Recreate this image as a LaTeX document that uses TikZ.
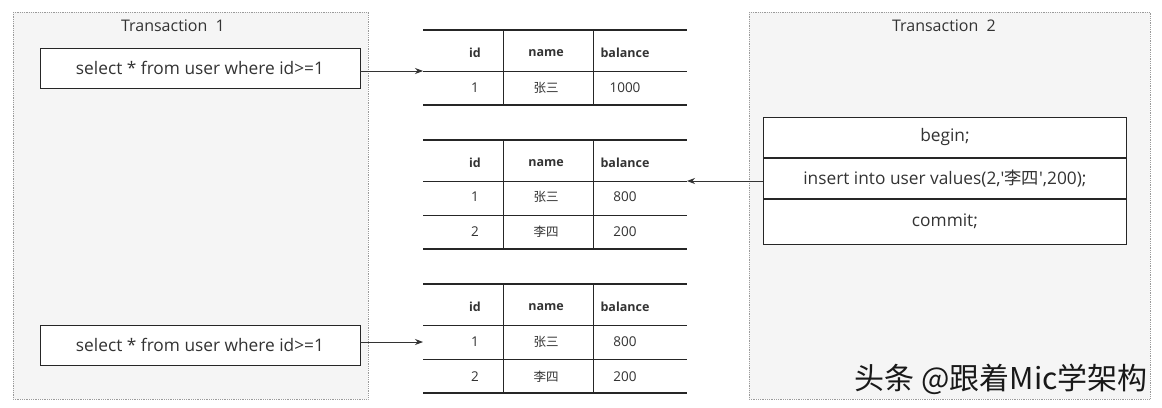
\documentclass[tikz,border=0pt]{standalone}
\usepackage{fontspec}
\setmainfont{Open Sans}[Ligatures=TeXOff]
\newfontfamily\cjk{Noto Sans CJK SC}
\usetikzlibrary{arrows.meta,positioning}
\definecolor{ink}{HTML}{333333}
\definecolor{panel}{HTML}{F5F5F5}
\definecolor{frame}{HTML}{9A9A9A}

\begin{document}
\begin{tikzpicture}[x=1pt,y=-1pt,
  panelbox/.style={draw=frame, fill=panel, densely dotted, line width=0.8pt},
  sqlbox/.style={draw=black!85, fill=white, line width=0.9pt, text=ink,
    minimum width=320pt, minimum height=40pt, inner sep=0pt, font=\fontsize{17.3}{19}\selectfont},
  stackbox/.style={sqlbox, minimum width=363pt},
  cell/.style={text=ink, inner sep=0pt, font=\fontsize{13.5}{15}\selectfont},
  head/.style={cell, font=\fontsize{12.5}{14}\selectfont\bfseries},
  link/.style={-{Stealth[length=8pt,width=6pt]}, draw=black!80, line width=0.8pt}]
  \useasboundingbox (0,0) rectangle (1162,407);
  \fill[white] (0,0) rectangle (1162,407);
  \draw[panelbox] (13,12) rectangle (368,399);
  \draw[panelbox] (749,12) rectangle (1150,399);
  \node[cell, font=\fontsize{16}{18}\selectfont] (tx1) at (173,26) {Transaction\ \ 1};
  \node[cell, font=\fontsize{16}{18}\selectfont] (tx2) at (944,26) {Transaction\ \ 2};

  \node[sqlbox] (q1) at (200,68) {select * from user where id>=1};
  \node[sqlbox] (q2) at (200,345) {select * from user where id>=1};

  \node[stackbox, anchor=north west] (begin) at (763,117) {begin;};
  \node[stackbox, below=0pt of begin] (ins) {insert into user values(2,'{\cjk 李四}',200);};
  \node[stackbox, minimum height=45pt, below=0pt of ins] (commit) {commit;};

  \foreach \tb/\top/\rows in {a/30/1, b/140/2, c/284/2} {
    \pgfmathsetmacro\bot{\top+41+34*\rows}
    \draw[line width=1.6pt, black!85] (423,\top) -- (687,\top);
    \draw[line width=1.6pt, black!85] (423,\bot) -- (687,\bot);
    \draw[line width=0.7pt, black!85] (423,\top+41) -- (687,\top+41);
    \ifnum\rows>1 \draw[line width=0.7pt, black!85] (423,\top+75) -- (687,\top+75); \fi
    \foreach \cx in {503,593}
      \draw[line width=0.7pt, black!85] (\cx,\top) -- (\cx,\bot);
    \node[head] (\tb-id) at (475,\top+23) {id};
    \node[head] (\tb-name) at (546,\top+23) {name};
    \node[head] (\tb-bal) at (625,\top+23) {balance};
    \coordinate (\tb-left) at (423,\top+41);
    \coordinate (\tb-right) at (687,\top+41);
  }
  \foreach \tb/\ry/\id/\name/\bal in {a/88/1/张三/1000, b/197/1/张三/800, b/232/2/李四/200,
      c/342/1/张三/800, c/377/2/李四/200} {
    \node[cell] (\tb-id-\id) at (475,\ry) {\id};
    \node[cell, font=\cjk\fontsize{12.5}{14}\selectfont] (\tb-name-\id) at (546,\ry) {\name};
    \node[cell] (\tb-bal-\id) at (625,\ry) {\bal};
  }

  \coordinate (c-in) at (423,342);
  \draw[link] (q1.east |- a-left) -- (a-left);
  \draw[link] (ins.west |- b-right) -- (b-right);
  \draw[link] (q2.east |- c-in) -- (c-in);

  \node[anchor=east, inner sep=0pt, text=black!90, font=\cjk\fontsize{30}{32}\selectfont] (mark) at (1148,379) {头条 @跟着Mic学架构};
\end{tikzpicture}
\end{document}
